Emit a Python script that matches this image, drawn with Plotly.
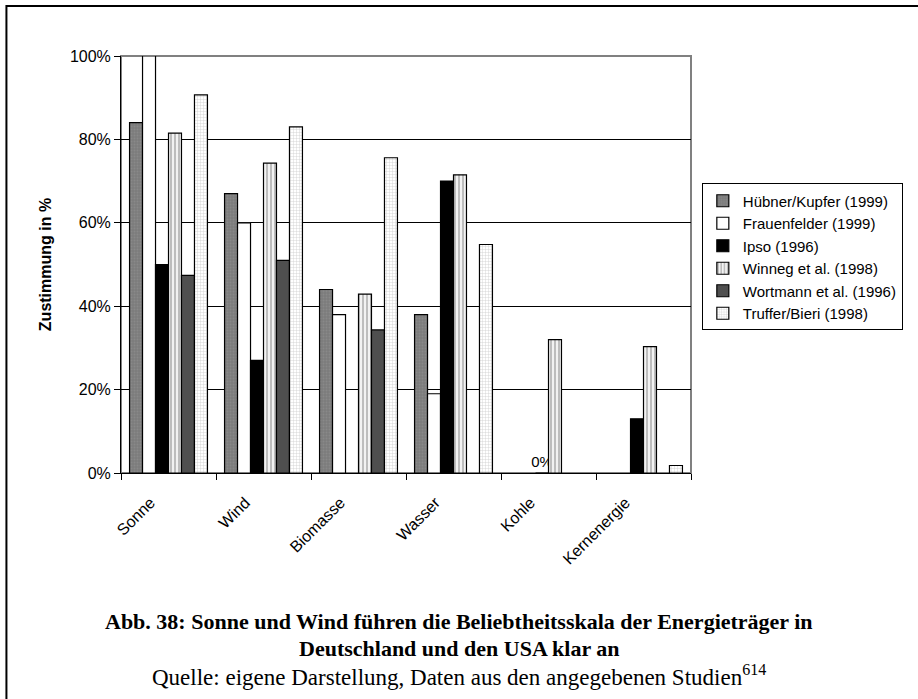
import plotly.graph_objects as go

categories = ["Sonne", "Wind", "Biomasse", "Wasser", "Kohle", "Kernenergie"]

huebner = [84, 67, 44, 38, None, None]
frauenfelder = [100, 60, 38, 19, None, None]
ipso = [50, 27, None, 70, 0, 13]
winneg = [81.5, 74.3, 42.9, 71.5, 32, 30.3]
wortmann = [47.4, 51, 34.3, None, None, None]
truffer = [90.7, 83, 75.6, 54.8, None, 1.8]

ipso_labels = ["", "", "", "", "0%", ""]

yticks = [0, 20, 40, 60, 80, 100]
ytick_text = ["0%", "20%", "40%", "60%", "80%", "100%"]

series = [
    ("Hübner/Kupfer (1999)", huebner, dict(color="#7c7c7c", pattern=dict(shape=".", fgcolor="#969696", bgcolor="#7c7c7c", size=3, solidity=0.3))),
    ("Frauenfelder (1999)", frauenfelder, dict(color="white")),
    ("Ipso (1996)", ipso, dict(color="black")),
    ("Winneg et al. (1998)", winneg, dict(color="#c8c8c8", pattern=dict(shape="|", fgcolor="#6e6e6e", bgcolor="#f2f2f2", size=4, solidity=0.4))),
    ("Wortmann et al. (1996)", wortmann, dict(color="#4f4f4f")),
    ("Truffer/Bieri (1998)", truffer, dict(color="white", pattern=dict(shape="+", fgcolor="#9a9a9a", bgcolor="white", size=3, solidity=0.25))),
]

font_sans = "Liberation Sans, Arial, sans-serif"
font_serif = "Liberation Serif, Times New Roman, serif"

fig = go.Figure()
for name, vals, mk in series:
    mk = dict(mk, line=dict(color="black", width=1.2))
    kw = {}
    if name.startswith("Ipso"):
        kw = dict(text=ipso_labels, textposition="outside", cliponaxis=False,
                  constraintext="none",
                  textfont=dict(family=font_sans, size=15, color="black"))
    fig.add_trace(go.Bar(x=categories, y=vals, name=name, marker=mk, **kw))

fig.update_layout(
    width=918, height=699,
    margin=dict(l=121, r=227, t=56, b=226),
    paper_bgcolor="white", plot_bgcolor="white",
    barmode="group", bargap=0.18, bargroupgap=0,
    font=dict(family=font_sans, size=16, color="black"),
    showlegend=True,
    legend=dict(x=1.019, xanchor="left", y=0.518, yanchor="middle",
                bordercolor="black", borderwidth=1, bgcolor="white",
                font=dict(family=font_sans, size=15), itemwidth=30),
    xaxis=dict(showline=True, linecolor="black", linewidth=1,
               ticks="outside", ticklen=6, tickcolor="black",
               tickson="boundaries", tickangle=-45,
               ticklabelshift=-18, ticklabelstandoff=13,
               tickfont=dict(size=16), showgrid=False),
    yaxis=dict(range=[0, 100], tickvals=yticks, ticktext=ytick_text,
               showline=True, linecolor="black", linewidth=1,
               ticks="outside", ticklen=6, tickcolor="black",
               showgrid=True, gridcolor="black", gridwidth=1,
               zeroline=False, tickfont=dict(size=16),
               title=dict(text="<b>Zustimmung in %</b>", font=dict(size=16), standoff=14)),
)

# grey plot-area frame (top and right)
fig.add_shape(type="rect", xref="paper", yref="paper", x0=0, y0=0, x1=1, y1=1,
              line=dict(color="#808080", width=2), layer="between")
# outer frame of the picture
fig.add_shape(type="rect", xref="paper", yref="paper", x0=-0.201, y0=1.12, x1=1.45, y1=-0.6,
              line=dict(color="black", width=2))

fig.add_annotation(xref="paper", yref="paper", x=0.593, y=-0.355, showarrow=False,
                   text="<b>Abb. 38: Sonne und Wind führen die Beliebtheitsskala der Energieträger in</b>",
                   font=dict(family=font_serif, size=22), yanchor="middle")
fig.add_annotation(xref="paper", yref="paper", x=0.593, y=-0.42, showarrow=False,
                   text="<b>Deutschland und den USA klar an</b>",
                   font=dict(family=font_serif, size=22), yanchor="middle")
fig.add_annotation(xref="paper", yref="paper", x=0.593, y=-0.485, showarrow=False,
                   text="Quelle: eigene Darstellung, Daten aus den angegebenen Studien<sup>614</sup>",
                   font=dict(family=font_serif, size=23), yanchor="middle")

fig.write_html("out.html", config={"displayModeBar": False},
               post_script="document.body.style.margin='0px';")
